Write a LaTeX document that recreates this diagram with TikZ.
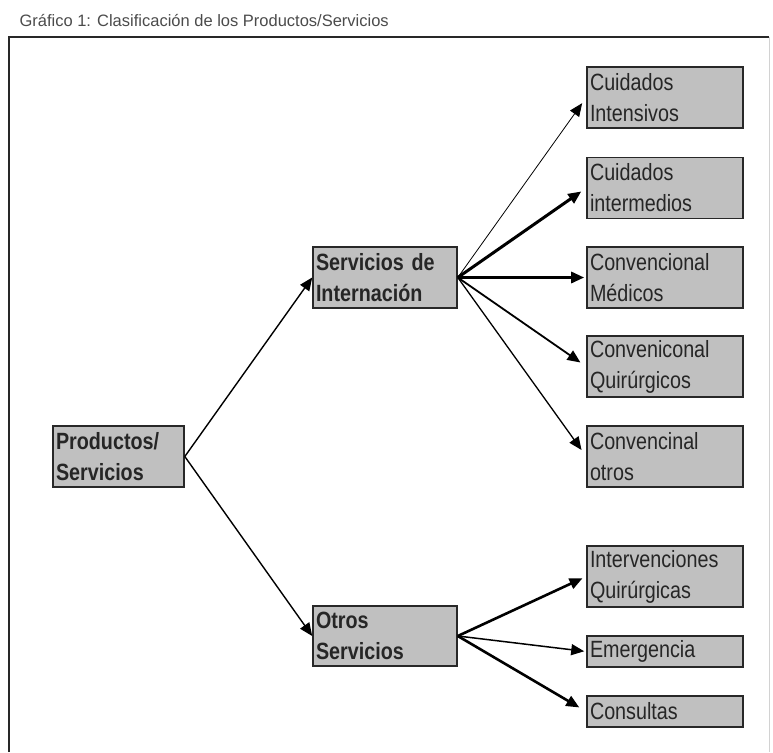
\documentclass[tikz,border=0pt]{standalone}
\usepackage{fontspec}
\setmainfont{Liberation Sans}
\newfontfamily\narrowfont[FakeStretch=0.84]{Liberation Sans}
\usetikzlibrary{arrows.meta,positioning}
\definecolor{BoxGray}{RGB}{192,192,192}
\definecolor{EdgeGray}{RGB}{40,40,40}
\definecolor{TitleGray}{RGB}{75,75,75}

\begin{document}
\begin{tikzpicture}[x=1pt,y=-1pt,>={Triangle[length=13pt,width=11pt]},
    caja/.style={draw=EdgeGray,line width=1.6pt,fill=BoxGray,inner sep=2pt,
      align=left,text=black!85,font=\narrowfont\fontsize{23.5}{31}\selectfont},
    hoja/.style={caja,minimum width=156pt,text width=150pt},
    raiz/.style={caja,font=\narrowfont\bfseries\fontsize{23.5}{31}\selectfont}]
  \useasboundingbox (0,0) rectangle (773,752);
  % titulo y marco
  \node[anchor=base west,text=TitleGray,font=\fontsize{16.5}{18}\selectfont] (titulo) at (16,27)
    {Gráfico 1: Clasificación de los Productos/Servicios};
  \draw[EdgeGray,line width=1.5pt] (9,752)--(9,37)--(769,37);
  \draw[gray!35] (769,37)--(769,752);

  % niveles 1 y 2
  \node[raiz,minimum width=131pt,minimum height=61pt,text width=125pt] (prod) at (118.5,456.5)
    {Productos/\\Servicios};
  \node[raiz,minimum width=144pt,minimum height=61pt,text width=138pt] (sint) at (385,277.5)
    {Servicios de\\Internación};
  \node[raiz,minimum width=144pt,minimum height=60pt,text width=138pt] (otros) at (385,636)
    {Otros\\Servicios};

  % nivel 3
  \node[hoja,minimum height=61pt] (cint) at (665,97.5) {Cuidados\\Intensivos};
  \node[hoja,minimum height=61pt] (cmed) at (665,188) {Cuidados\\intermedios};
  \node[hoja,minimum height=61pt] (med) at (665,277.5) {Convencional\\Médicos};
  \node[hoja,minimum height=61pt] (quir) at (665,366.5) {Conveniconal\\Quirúrgicos};
  \node[hoja,minimum height=61pt] (cotr) at (665,456.5) {Convencinal\\otros};
  \node[hoja,minimum height=61pt] (inter) at (665,576.5) {Intervenciones\\Quirúrgicas};
  \node[hoja,minimum height=31pt] (emer) at (665,651.5) {Emergencia};
  \node[hoja,minimum height=31pt] (cons) at (665,711.5) {Consultas};

  % flechas
  \draw[->,line width=1.4pt] (prod.east)--(sint.west);
  \draw[->,line width=1.4pt] (prod.east)--(otros.west);
  \draw[->,line width=0.8pt,shorten >=7pt] (sint.east)--(cint.west);
  \draw[->,line width=3pt,shorten >=6pt] (sint.east)--(cmed.west);
  \draw[->,line width=3pt,shorten >=2pt] (sint.east)--(med.west);
  \draw[->,line width=1.8pt,shorten >=7pt] (sint.east)--(quir.west);
  \draw[->,line width=1.3pt,shorten >=8pt] (sint.east)--(cotr.west);
  \draw[->,line width=2.6pt,shorten >=4pt] (otros.east)--(inter.west);
  \draw[->,line width=1.5pt,shorten >=2pt] (otros.east)--(emer.west);
  \draw[->,line width=2.6pt,shorten >=8pt] (otros.east)--(cons.west);
\end{tikzpicture}
\end{document}
